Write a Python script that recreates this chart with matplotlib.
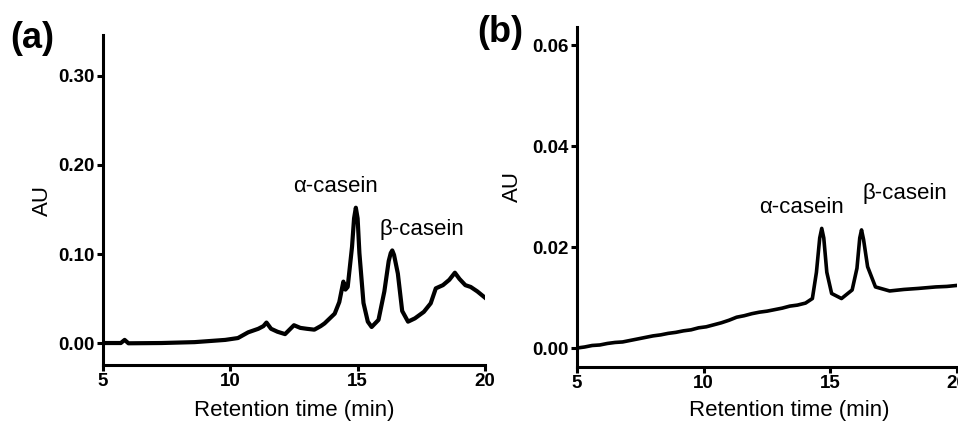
import matplotlib
matplotlib.use("Agg")
import matplotlib.pyplot as plt
from matplotlib.ticker import FormatStrFormatter

plt.rcParams['font.family'] = ['Liberation Sans', 'DejaVu Sans']

# panel (a) chromatogram
time_a = [5.0, 5.7, 5.85, 6.0, 7.3, 8.6, 9.8, 10.3, 10.7, 11.1, 11.3, 11.42, 11.6,
          11.85, 12.15, 12.5, 12.75, 13.0, 13.3, 13.55, 13.7, 14.1, 14.28, 14.44,
          14.52, 14.61, 14.78, 14.86, 14.93, 15.0, 15.07, 15.23, 15.4, 15.55, 15.82,
          16.05, 16.22, 16.3, 16.36, 16.43, 16.58, 16.75, 16.98, 17.25, 17.6, 17.87,
          18.07, 18.35, 18.6, 18.82, 19.0, 19.23, 19.44, 19.7, 20.0]
au_a = [0.0, 0.0, 0.0035, -0.0003, 0.0, 0.001, 0.0035, 0.0056, 0.012, 0.016, 0.019,
        0.023, 0.016, 0.0127, 0.010, 0.020, 0.017, 0.016, 0.015, 0.019, 0.022, 0.033,
        0.046, 0.069, 0.060, 0.063, 0.108, 0.140, 0.152, 0.140, 0.101, 0.045, 0.024,
        0.018, 0.026, 0.058, 0.092, 0.101, 0.104, 0.099, 0.078, 0.036, 0.024, 0.0277,
        0.035, 0.0446, 0.0614, 0.065, 0.071, 0.079, 0.072, 0.065, 0.063, 0.058, 0.051]

# panel (b) chromatogram
time_b = [5.0, 5.3, 5.6, 5.9, 6.2, 6.5, 6.8, 7.1, 7.4, 7.7, 8.0, 8.3, 8.6, 8.9, 9.2,
          9.5, 9.8, 10.1, 10.4, 10.7, 11.0, 11.3, 11.6, 11.9, 12.2, 12.5, 12.8, 13.1,
          13.4, 13.7, 14.02, 14.29, 14.45, 14.58, 14.66, 14.74, 14.86, 15.05, 15.44,
          15.86, 16.05, 16.16, 16.23, 16.31, 16.47, 16.78, 17.34, 17.9, 18.46, 19.16,
          19.6, 20.0]
au_b = [0.0, 0.0002, 0.0005, 0.0006, 0.0009, 0.0011, 0.0012, 0.0015, 0.0018, 0.0021,
        0.0024, 0.0026, 0.0029, 0.0031, 0.0034, 0.0036, 0.0040, 0.0042, 0.0046, 0.0050,
        0.0055, 0.0061, 0.0064, 0.0068, 0.0071, 0.0073, 0.0076, 0.0079, 0.0083, 0.0085,
        0.0089, 0.0098, 0.0150, 0.0218, 0.0237, 0.0218, 0.0150, 0.0108, 0.0098, 0.0115,
        0.0158, 0.0218, 0.0234, 0.0215, 0.0161, 0.0121, 0.0113, 0.0116, 0.0118, 0.0121,
        0.0122, 0.0124]

ticks_x = [5, 10, 15, 20]
ticks_a = [0.0, 0.1, 0.2, 0.3]
ticks_b = [0.0, 0.02, 0.04, 0.06]

fig = plt.figure(figsize=(9.58, 4.21), dpi=100)
ax_a = fig.add_axes([0.1075, 0.133, 0.3987, 0.7838])
ax_b = fig.add_axes([0.6023, 0.1283, 0.3967, 0.8076])


def style(ax):
    for s in ["top", "right"]:
        ax.spines[s].set_visible(False)
    for s in ["left", "bottom"]:
        ax.spines[s].set_linewidth(2.2)
    ax.tick_params(direction="out", length=4, width=2.2, labelsize=13.5, pad=2)
    for lab in ax.get_xticklabels() + ax.get_yticklabels():
        lab.set_fontweight("bold")
    ax.set_xlim(5, 20)
    ax.set_xticks(ticks_x)
    ax.set_ylabel("AU", fontsize=16)
    ax.set_xlabel("Retention time (min)", fontsize=16)


ax_a.plot(time_a, au_a, color="black", lw=3, solid_joinstyle="round")
ax_a.set_ylim(-0.0247, 0.346)
ax_a.set_yticks(ticks_a)
ax_a.yaxis.set_major_formatter(FormatStrFormatter("%.2f"))
style(ax_a)
ax_a.xaxis.set_label_coords(0.5, -0.106)
ax_a.yaxis.set_label_coords(-0.131, 0.5)
ax_a.text(14.15, 0.176, "α-casein", fontsize=16, ha="center", va="center")
ax_a.text(17.52, 0.127, "β-casein", fontsize=16, ha="center", va="center")

ax_b.plot(time_b, au_b, color="black", lw=2.6, solid_joinstyle="round")
ax_b.set_ylim(-0.00376, 0.0636)
ax_b.set_yticks(ticks_b)
ax_b.yaxis.set_major_formatter(FormatStrFormatter("%.2f"))
style(ax_b)
ax_b.xaxis.set_label_coords(0.558, -0.096)
ax_b.yaxis.set_label_coords(-0.142, 0.53)
ax_b.text(13.88, 0.0279, "α-casein", fontsize=16, ha="center", va="center")
ax_b.text(17.95, 0.0307, "β-casein", fontsize=16, ha="center", va="center")

fig.text(10 / 958, 1 - 38 / 421, "(a)", fontsize=26, fontweight="bold", va="center")
fig.text(477 / 958, 1 - 33 / 421, "(b)", fontsize=26, fontweight="bold", va="center")

fig.savefig("out.png", dpi=100, facecolor="white")
